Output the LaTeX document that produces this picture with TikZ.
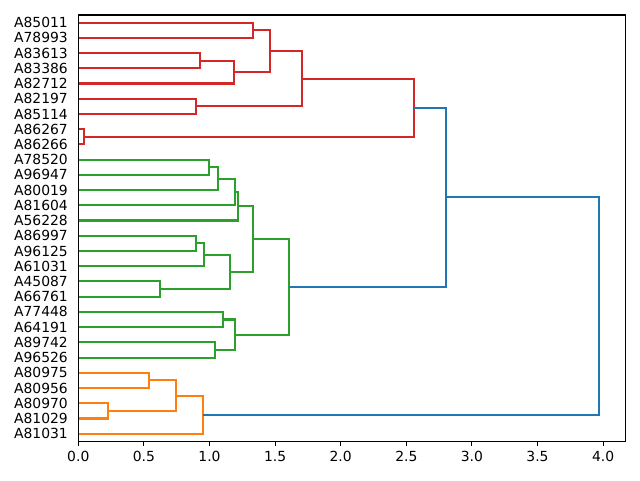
\documentclass[tikz,border=0pt]{standalone}
\usepackage{fontspec}
\setmainfont{DejaVu Sans}
\definecolor{mplblue}{HTML}{1F77B4}
\definecolor{mplorange}{HTML}{FF7F0E}
\definecolor{mplgreen}{HTML}{2CA02C}
\definecolor{mplred}{HTML}{D62728}
\newcommand\dgLink[4]{\draw[link,#4] (#1) -- (#1 -| #3) -- (#2 -| #3) -- (#2);}
\begin{document}
\begin{tikzpicture}[x=1pt,y=1pt,
  link/.style={line width=2.08pt, line join=miter},
  lbl/.style={font=\fontsize{13.9}{16}\selectfont, inner sep=0pt, text=black},
  spine/.style={line width=1.11pt, black}]
\useasboundingbox (0,0) rectangle (640,480);
\begin{scope}[x=131.2pt, y=1.5225pt, shift={(78.3pt,38.7pt)}]
  % leaves (bottom to top)
  \foreach \nm [count=\i from 0] in {A81031,A81029,A80970,A80956,A80975,A96526,A89742,A64191,A77448,A66761,A45087,A61031,A96125,A86997,A56228,A81604,A80019,A96947,A78520,A86266,A86267,A85114,A82197,A82712,A83386,A83613,A78993,A85011}{
    \coordinate (L\i) at (0,{5+10*\i});
    \node[lbl,anchor=east] (n\i) at ([xshift=-10.3pt]L\i) {\nm};
  }
  % merge points
  \coordinate (o1) at (0.224,20);
  \coordinate (o2) at (0.539,40);
  \coordinate (o3) at (0.742,30);
  \coordinate (o4) at (0.950,17.5);
  \coordinate (g1) at (0.996,180);
  \coordinate (g2) at (1.065,172.5);
  \coordinate (g3) at (1.194,163.75);
  \coordinate (g4) at (1.215,154.375);
  \coordinate (g5) at (0.897,130);
  \coordinate (g6) at (0.956,122.5);
  \coordinate (g7) at (0.623,100);
  \coordinate (g8) at (1.156,111.25);
  \coordinate (g9) at (1.334,132.8125);
  \coordinate (g10) at (1.103,80);
  \coordinate (g11) at (1.044,60);
  \coordinate (g12) at (1.197,70);
  \coordinate (g13) at (1.606,101.40625);
  \coordinate (r1) at (1.334,270);
  \coordinate (r2) at (0.928,250);
  \coordinate (r3) at (1.189,242.5);
  \coordinate (r4) at (1.461,256.25);
  \coordinate (r5) at (0.897,220);
  \coordinate (r6) at (1.705,238.125);
  \coordinate (r7) at (0.041,200);
  \coordinate (r8) at (2.559,219.0625);
  \coordinate (b1) at (2.803,160.234);
  \coordinate (b2) at (3.969,88.867);
  % orange
  \dgLink{L2}{L1}{o1}{mplorange}
  \dgLink{L4}{L3}{o2}{mplorange}
  \dgLink{o2}{o1}{o3}{mplorange}
  \dgLink{o3}{L0}{o4}{mplorange}
  % green
  \dgLink{L18}{L17}{g1}{mplgreen}
  \dgLink{g1}{L16}{g2}{mplgreen}
  \dgLink{g2}{L15}{g3}{mplgreen}
  \dgLink{g3}{L14}{g4}{mplgreen}
  \dgLink{L13}{L12}{g5}{mplgreen}
  \dgLink{g5}{L11}{g6}{mplgreen}
  \dgLink{L10}{L9}{g7}{mplgreen}
  \dgLink{g6}{g7}{g8}{mplgreen}
  \dgLink{g4}{g8}{g9}{mplgreen}
  \dgLink{L8}{L7}{g10}{mplgreen}
  \dgLink{L6}{L5}{g11}{mplgreen}
  \dgLink{g10}{g11}{g12}{mplgreen}
  \dgLink{g9}{g12}{g13}{mplgreen}
  % red
  \dgLink{L27}{L26}{r1}{mplred}
  \dgLink{L25}{L24}{r2}{mplred}
  \dgLink{r2}{L23}{r3}{mplred}
  \dgLink{r1}{r3}{r4}{mplred}
  \dgLink{L22}{L21}{r5}{mplred}
  \dgLink{r4}{r5}{r6}{mplred}
  \dgLink{L20}{L19}{r7}{mplred}
  \dgLink{r6}{r7}{r8}{mplred}
  % blue
  \dgLink{r8}{g13}{b1}{mplblue}
  \dgLink{b1}{o4}{b2}{mplblue}
  % frame
  \draw[spine] (0,0) rectangle (4.169,280);
  % x ticks
  \foreach \v/\t [count=\k] in {0/0.0,0.5/0.5,1/1.0,1.5/1.5,2/2.0,2.5/2.5,3/3.0,3.5/3.5,4/4.0}{
    \draw[spine] (\v,0) -- ++(0,-4.86pt);
    \node[lbl,anchor=north] (xt\k) at ([yshift=-9.72pt]\v,0) {\t};
  }
\end{scope}
\end{tikzpicture}
\end{document}
